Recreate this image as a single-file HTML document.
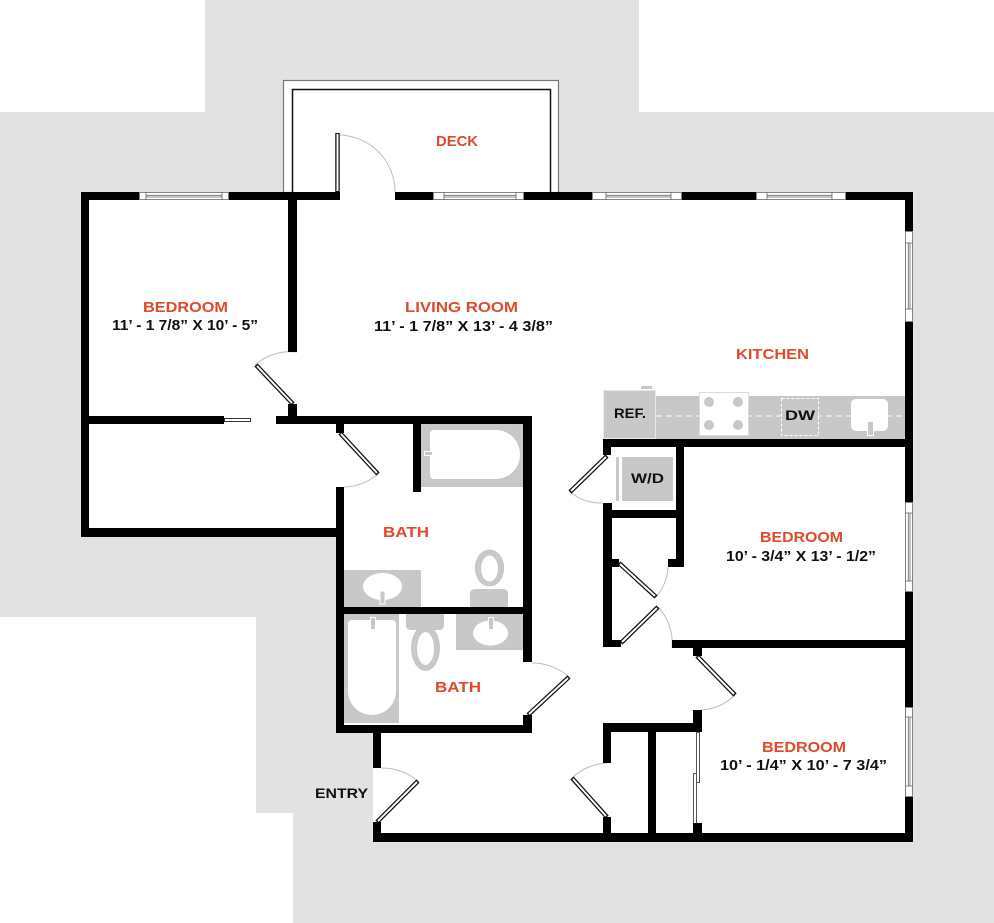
<!DOCTYPE html>
<html><head><meta charset="utf-8"><style>
html,body{margin:0;padding:0;background:#fff;}
svg{display:block;}
text{font-family:"Liberation Sans",sans-serif;font-weight:bold;}
.o{fill:#df4a2a;font-size:15px;}
.k{fill:#111;font-size:15px;}
.s{fill:#111;font-size:14px;}
</style></head><body>
<svg width="994" height="923" viewBox="0 0 994 923" xmlns="http://www.w3.org/2000/svg">
<!-- background gray site -->
<polygon points="205,0 639,0 639,112 994,112 994,923 293,923 293,813 256,813 256,617 0,617 0,112 205,112" fill="#e2e2e2"/>
<!-- deck -->
<rect x="283.5" y="80.5" width="275" height="112" fill="#fff" stroke="#777" stroke-width="1.2"/>
<rect x="292.5" y="89.5" width="258" height="104" fill="#fff" stroke="#111" stroke-width="1.5"/>
<!-- interior floor -->
<polygon points="81,192 913,192 913,842 373,842 373,733 336,733 336,537 81,537" fill="#fff"/>

<!-- kitchen counter -->
<rect x="656" y="396" width="249" height="43" fill="#c8c8c8"/>
<line x1="656" y1="416" x2="905" y2="416" stroke="#fff" stroke-width="1" stroke-dasharray="6,4"/>
<rect x="603.5" y="390.5" width="52" height="48" fill="#c8c8c8" stroke="#e8e8e8" stroke-width="1"/>
<rect x="641" y="386" width="11" height="3" fill="#c8c8c8"/>
<rect x="699.5" y="392.5" width="49" height="43" fill="#fff" stroke="#dcdcdc" stroke-width="1"/>
<circle cx="709" cy="402" r="5" fill="#c8c8c8"/><circle cx="738" cy="402" r="5" fill="#c8c8c8"/>
<circle cx="709" cy="425" r="5" fill="#c8c8c8"/><circle cx="738" cy="425" r="5" fill="#c8c8c8"/>
<rect x="781.5" y="398.5" width="37" height="37" fill="#c8c8c8" stroke="#fff" stroke-width="1" stroke-dasharray="3,2"/>
<rect x="851" y="399" width="37" height="32" rx="5" fill="#fff"/>
<rect x="867.5" y="421.5" width="6" height="14" fill="#c8c8c8" stroke="#fff" stroke-width="1"/>
<!-- W/D -->
<rect x="616" y="457" width="3" height="44" fill="#c8c8c8"/>
<rect x="622" y="457" width="51" height="44" fill="#c8c8c8"/>

<!-- upper bath fixtures -->
<rect x="421" y="424" width="102" height="63" fill="#c8c8c8"/>
<path d="M434,430 H496 A24,24.5 0 0 1 496,479 H434 Q430,479 430,475 V434 Q430,430 434,430Z" fill="#fff"/>
<rect x="424.5" y="451.5" width="8" height="4" fill="#c8c8c8" stroke="#fff" stroke-width="1"/>
<rect x="344" y="570" width="77" height="37" fill="#c8c8c8"/>
<ellipse cx="382.5" cy="586.5" rx="19.5" ry="13.5" fill="#fff"/>
<rect x="380" y="591" width="5" height="13" fill="#c8c8c8" stroke="#fff" stroke-width="1"/>
<path d="M475,589 H503 Q508,589 508,594 V607 H470 V594 Q470,589 475,589Z" fill="#c8c8c8"/>
<ellipse cx="489.5" cy="568" rx="14.7" ry="18.5" fill="#c8c8c8"/>
<ellipse cx="489.5" cy="568.5" rx="8.5" ry="13" fill="#fff"/>
<!-- lower bath fixtures -->
<rect x="344" y="614" width="55" height="109" fill="#c8c8c8"/>
<path d="M352,620 H392 Q396,620 396,624 V691 A24,24 0 0 1 348,691 V624 Q348,620 352,620Z" fill="#fff"/>
<rect x="370.5" y="617.5" width="5" height="12" fill="#c8c8c8" stroke="#fff" stroke-width="1"/>
<path d="M406,614 H444 V625 Q444,630 439,630 H411 Q406,630 406,625Z" fill="#c8c8c8"/>
<ellipse cx="425.5" cy="648" rx="14.5" ry="23" fill="#c8c8c8"/>
<ellipse cx="425.5" cy="648.5" rx="8.5" ry="16.5" fill="#fff"/>
<rect x="456" y="614" width="67" height="36" fill="#c8c8c8"/>
<ellipse cx="490.5" cy="633" rx="17.5" ry="12.5" fill="#fff"/>
<rect x="488.5" y="617.5" width="5" height="12" fill="#c8c8c8" stroke="#fff" stroke-width="1"/>

<!-- door arcs -->
<g fill="none" stroke="#bdbdbd" stroke-width="1">
<path d="M340,135 A57,57 0 0 1 395,192"/>
<path d="M255,365 A54,54 0 0 1 297,352"/>
<path d="M378,474 A55,55 0 0 1 344,487"/>
<path d="M569,677 A55,55 0 0 0 532,663"/>
<path d="M570,492 A50,50 0 0 0 603,503"/>
<path d="M656,597 A50,50 0 0 0 668,567"/>
<path d="M658,607 A52,52 0 0 1 672,647"/>
<path d="M735,695 A54,54 0 0 1 702,710"/>
<path d="M418,781 A57,57 0 0 0 381,768"/>
<path d="M572,778 A55,55 0 0 1 607,763"/>
</g>
<!-- door leaves -->
<g stroke="#111" stroke-width="4.5" stroke-linecap="butt">
<line x1="337.5" y1="192" x2="337.5" y2="133"/>
<line x1="293" y1="404" x2="256" y2="365"/>
<line x1="340" y1="433" x2="378" y2="474"/>
<line x1="528" y1="715" x2="569" y2="677"/>
<line x1="607" y1="456" x2="570" y2="492"/>
<line x1="619" y1="563" x2="656" y2="597"/>
<line x1="621" y1="643" x2="658" y2="607"/>
<line x1="697" y1="656" x2="735" y2="695"/>
<line x1="377" y1="822" x2="418" y2="781"/>
<line x1="607" y1="817" x2="572" y2="778"/>
</g>
<g stroke="#fff" stroke-width="2" stroke-linecap="butt">
<line x1="337.5" y1="191" x2="337.5" y2="134"/>
<line x1="292" y1="403" x2="257" y2="366"/>
<line x1="341" y1="434" x2="377" y2="473"/>
<line x1="529" y1="714" x2="568" y2="678"/>
<line x1="606" y1="457" x2="571" y2="491"/>
<line x1="620" y1="564" x2="655" y2="596"/>
<line x1="622" y1="642" x2="657" y2="608"/>
<line x1="698" y1="657" x2="734" y2="694"/>
<line x1="378" y1="821" x2="417" y2="782"/>
<line x1="606" y1="816" x2="573" y2="779"/>
</g>
<!-- sliding doors -->
<rect x="224.5" y="418.5" width="26" height="3" fill="#fff" stroke="#333" stroke-width="1"/>
<rect x="696.5" y="732.5" width="3" height="50" fill="#fff" stroke="#555" stroke-width="1"/>
<rect x="693.5" y="773.5" width="3" height="50" fill="#fff" stroke="#555" stroke-width="1"/>

<!-- walls -->
<g fill="#000">
<!-- top wall -->
<rect x="81" y="192" width="58" height="8"/>
<rect x="229" y="192" width="111" height="8"/>
<rect x="395" y="192" width="38" height="8"/>
<rect x="524" y="192" width="68" height="8"/>
<rect x="682" y="192" width="74" height="8"/>
<rect x="846" y="192" width="67" height="8"/>
<!-- right wall -->
<rect x="905" y="192" width="8" height="39"/>
<rect x="905" y="322" width="8" height="180"/>
<rect x="905" y="592" width="8" height="115"/>
<rect x="905" y="797" width="8" height="45"/>
<!-- left wall -->
<rect x="81" y="192" width="8" height="345"/>
<!-- closet bottom -->
<rect x="81" y="528" width="263" height="9"/>
<!-- bedroom1 right wall -->
<rect x="288" y="192" width="9" height="160"/>
<rect x="288" y="404" width="9" height="20"/>
<!-- horizontal wall y416 -->
<rect x="81" y="416" width="143" height="8"/>
<rect x="276" y="416" width="256" height="8"/>
<!-- bath left wall -->
<rect x="336" y="416" width="8" height="17"/>
<rect x="336" y="487" width="8" height="246"/>
<!-- bath inner wall -->
<rect x="413" y="416" width="8" height="76"/>
<!-- bath right wall -->
<rect x="523" y="416" width="9" height="246"/>
<rect x="523" y="715" width="9" height="18"/>
<!-- bath middle wall -->
<rect x="336" y="607" width="196" height="7"/>
<!-- bath bottom wall -->
<rect x="336" y="725" width="196" height="8"/>
<!-- entry left wall -->
<rect x="373" y="733" width="8" height="35"/>
<rect x="373" y="822" width="8" height="20"/>
<!-- bottom wall -->
<rect x="373" y="833" width="540" height="9"/>
<!-- counter wall -->
<rect x="603" y="439" width="310" height="8"/>
<!-- WD closet -->
<rect x="603" y="439" width="8" height="16"/>
<rect x="603" y="503" width="9" height="144"/>
<rect x="603" y="510" width="81" height="8"/>
<rect x="676" y="439" width="8" height="128"/>
<rect x="668" y="559" width="16" height="8"/>
<rect x="603" y="559" width="16" height="8"/>
<rect x="603" y="640" width="18" height="7"/>
<!-- bed2/bed3 divider -->
<rect x="672" y="640" width="241" height="8"/>
<!-- bed3 left wall -->
<rect x="693" y="640" width="9" height="16"/>
<rect x="693" y="710" width="9" height="22"/>
<rect x="693" y="823" width="9" height="19"/>
<!-- entry closets -->
<rect x="603" y="723" width="98" height="9"/>
<rect x="603" y="723" width="8" height="40"/>
<rect x="603" y="817" width="8" height="25"/>
<rect x="648" y="723" width="8" height="119"/>
</g>

<!-- windows horizontal (top wall) -->
<g fill="#fff" stroke="#777" stroke-width="0.9">
<rect x="139.5" y="192.5" width="89" height="7"/>
<rect x="433.5" y="192.5" width="90" height="7"/>
<rect x="592.5" y="192.5" width="89" height="7"/>
<rect x="756.5" y="192.5" width="89" height="7"/>
<rect x="905.5" y="231.5" width="7" height="90"/>
<rect x="905.5" y="502.5" width="7" height="89"/>
<rect x="905.5" y="707.5" width="7" height="89"/>
</g>
<g stroke="#666" stroke-width="0.8" fill="none">
<path d="M146,192 V200 M222,192 V200 M146,195.3 H222 M146,197 H222"/>
<path d="M444,192 V200 M516,192 V200 M444,195.3 H516 M444,197 H516"/>
<path d="M606,192 V200 M671,192 V200 M606,195.3 H671 M606,197 H671"/>
<path d="M767,192 V200 M832,192 V200 M767,195.3 H832 M767,197 H832"/>
<path d="M905,243 H913 M905,309 H913 M908.3,243 V309 M910,243 V309"/>
<path d="M905,513 H913 M905,581 H913 M908.3,513 V581 M910,513 V581"/>
<path d="M905,717 H913 M905,786 H913 M908.3,717 V786 M910,717 V786"/>
</g>

<!-- labels -->
<text class="o" x="436" y="146" textLength="42" lengthAdjust="spacingAndGlyphs">DECK</text>
<text class="o" x="143" y="312" textLength="85" lengthAdjust="spacingAndGlyphs">BEDROOM</text>
<text class="k" x="112" y="330" textLength="146" lengthAdjust="spacingAndGlyphs">11’ - 1 7/8” X 10’ - 5”</text>
<text class="o" x="405" y="312" textLength="113" lengthAdjust="spacingAndGlyphs">LIVING ROOM</text>
<text class="k" x="374" y="331" textLength="179" lengthAdjust="spacingAndGlyphs">11’ - 1 7/8” X 13’ - 4 3/8”</text>
<text class="o" x="736" y="359" textLength="73" lengthAdjust="spacingAndGlyphs">KITCHEN</text>
<text class="s" x="614" y="418" textLength="32" lengthAdjust="spacingAndGlyphs">REF.</text>
<text class="s" x="785" y="420" textLength="30" lengthAdjust="spacingAndGlyphs">DW</text>
<text class="s" x="631" y="483" textLength="33" lengthAdjust="spacingAndGlyphs">W/D</text>
<text class="o" x="383" y="537" textLength="46" lengthAdjust="spacingAndGlyphs">BATH</text>
<text class="o" x="435" y="692" textLength="46" lengthAdjust="spacingAndGlyphs">BATH</text>
<text class="o" x="760" y="542" textLength="83" lengthAdjust="spacingAndGlyphs">BEDROOM</text>
<text class="k" x="726" y="561" textLength="150" lengthAdjust="spacingAndGlyphs">10’ - 3/4” X 13’ - 1/2”</text>
<text class="o" x="762" y="752" textLength="84" lengthAdjust="spacingAndGlyphs">BEDROOM</text>
<text class="k" x="720" y="770" textLength="167" lengthAdjust="spacingAndGlyphs">10’ - 1/4” X 10’ - 7 3/4”</text>
<text class="s" x="315" y="798" textLength="53" lengthAdjust="spacingAndGlyphs">ENTRY</text>
</svg>
</body></html>
